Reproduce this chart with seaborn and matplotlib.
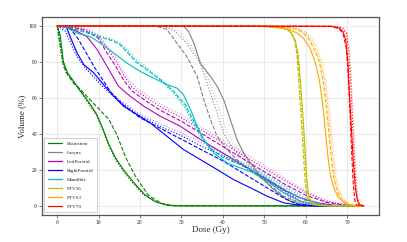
import matplotlib
matplotlib.use("Agg")
import matplotlib.pyplot as plt
from matplotlib.lines import Line2D
import seaborn as sns
import pandas as pd

# ---------------- data (dose in Gy, volume in %) ----------------
structures = ["Brainstem", "Larynx", "LeftParotid", "RightParotid",
              "Mandible", "PTV56", "PTV63", "PTV70"]
colors = ["green", "gray", "m", "b", "c", "y", "orange", "red"]
variants = ["solid", "dashed", "dotted", "faint"]

brainstem = [
    ([0, 0.7, 1.5, 2.5, 4, 5.5, 7.5, 9.5, 11, 12.5, 14, 16, 18.5, 21, 23.5, 26.5, 30, 74],
     [100, 95, 80, 74, 69, 64, 58, 51, 43, 34, 27, 20, 13, 6.5, 2.5, 0.4, 0, 0]),
    ([0, 0.5, 1.5, 2.5, 4, 5.5, 7.5, 10, 12.5, 14.5, 16.5, 19, 22, 25, 28, 74],
     [100, 92, 78, 73, 68, 65, 60, 54, 48, 39, 27, 16, 6, 1.5, 0, 0]),
    ([0, 0.5, 1.2, 2.3, 4, 5.5, 7.5, 9.5, 11, 12.5, 14, 16, 18.5, 21, 24, 27, 74],
     [100, 93, 80, 73, 69, 64, 57, 50, 42, 33, 26, 19, 12, 6, 2, 0.2, 0]),
    ([0, 0.6, 1.3, 2.4, 4, 5.5, 7.5, 9.5, 11, 12.5, 14, 16, 18.5, 21, 24, 27, 74],
     [100, 94, 81, 74, 69, 65, 58, 51, 43, 34, 27, 20, 12.5, 6.5, 2.2, 0.3, 0]),
]
larynx = [
    ([0, 30.5, 31.7, 33, 34.6, 37, 38.6, 40.2, 41.8, 43.4, 45, 46.7, 49, 52.3, 55.5, 58.7, 62, 74],
     [100, 100, 97, 90.5, 79, 72, 66.5, 59, 48, 37, 29.4, 23.9, 16.5, 9, 3.5, 0.7, 0, 0]),
    ([0, 22.5, 24.5, 26.5, 28.9, 31.3, 33.8, 35.4, 37, 38.6, 41, 44.2, 47.5, 50.7, 54.7, 58.7, 62, 74],
     [100, 100, 99.5, 98, 90.5, 83, 72, 59, 48, 38.7, 31.3, 23.9, 18.3, 12.8, 5.4, 1.3, 0, 0]),
    ([0, 25.5, 28.5, 31.3, 34.6, 37, 38.6, 40.2, 42.6, 45.8, 49, 52.5, 56, 59, 62, 74],
     [100, 100, 97, 90.5, 79, 62.8, 51.7, 40.5, 31.3, 23.9, 17.5, 11, 5, 1.2, 0, 0]),
    ([0, 26.5, 29.5, 32, 35.2, 37.6, 39.2, 40.8, 43.2, 46.2, 49.5, 53, 56.5, 59.5, 62.5, 74],
     [100, 100, 97, 90.5, 79, 64, 53, 42, 32.5, 24.5, 18, 11.5, 5.3, 1.3, 0, 0]),
]
left_parotid = [
    ([0, 2, 4.8, 7.2, 9.6, 12, 14.8, 17.6, 20.9, 24.9, 29.7, 34.6, 38.6, 42.6, 46.7, 50.7, 54.7, 58.7, 62.8, 66.8, 70, 74],
     [100, 99.5, 97, 94, 87, 77.6, 66.5, 61, 55.4, 49.8, 44.3, 36.9, 31.3, 25.7, 20.2, 14.6, 9, 4.4, 1.7, 0.4, 0, 0]),
    ([0, 3, 6, 8, 10, 12, 14, 16, 18, 21, 25, 30, 35, 40, 45, 50, 55, 60, 65, 70, 74],
     [100, 99.5, 98, 96, 93, 85, 78, 70, 64, 59, 53, 47, 40, 33, 26, 19, 12, 6, 2, 0.3, 0]),
    ([0, 3, 6, 8, 10, 12, 14, 16, 18, 21, 25, 30, 35, 40, 45, 50, 55, 60, 65, 70, 74],
     [100, 99.5, 98.5, 97, 94, 88, 81, 73, 66, 61, 55, 49, 42, 35, 28, 21, 14, 7.5, 2.5, 0.4, 0]),
    ([0, 3, 6, 8, 10, 12, 14, 16, 18, 21, 25, 30, 35, 40, 45, 50, 55, 60, 65, 70, 74],
     [100, 99.7, 99, 97.5, 95, 89, 83, 75, 68, 62.5, 56.5, 50.5, 43.5, 36.5, 29.5, 22.5, 15, 8.5, 3, 0.5, 0]),
]
right_parotid = [
    ([0, 1.5, 2.3, 3.5, 4.8, 6.4, 8.8, 11.2, 13.6, 16, 19.3, 22.5, 26.5, 30.5, 34.6, 38.6, 42.6, 46.7, 50.7, 54.7, 58.7, 62, 74],
     [100, 100, 99, 92, 85, 78.5, 74, 67.4, 61, 55.4, 50.7, 46, 38.7, 31.3, 25.7, 20.2, 14.6, 10, 5.4, 1.7, 0.3, 0, 0]),
    ([0, 3, 5, 7, 9, 11, 13, 16, 20, 25, 30, 35, 40, 45, 50, 55, 58, 62, 74],
     [100, 99, 93, 85, 77, 70, 63, 56, 49, 43, 37, 31, 25, 18, 11, 4, 1, 0, 0]),
    ([0, 2, 3.5, 5, 7, 9, 12, 15, 20, 25, 30, 35, 40, 45, 50, 55, 59, 63, 74],
     [100, 97, 89, 82, 76, 71, 64, 58, 50, 44, 39, 33, 28, 22, 15, 8, 2, 0, 0]),
    ([0, 2.2, 3.7, 5.2, 7, 9, 12, 15, 20, 25, 30, 35, 40, 45, 50, 55, 59, 63, 74],
     [100, 98, 90, 83, 77, 72, 65, 59, 51, 45.5, 40.5, 35, 29.5, 23.5, 16.5, 9, 2.5, 0, 0]),
]
mandible = [
    ([0, 2.3, 4.8, 8, 10.4, 13.6, 16.8, 20, 23.3, 26.5, 28.9, 30.5, 32.2, 33.8, 35.4, 37.8, 41, 44.2, 47.5, 50.7, 54.7, 58.7, 62.8, 66, 74],
     [100, 99, 96, 94, 90.5, 85, 79.4, 74.8, 71, 67.4, 65.5, 61.8, 53.5, 44.3, 36.9, 29.4, 23.9, 21.1, 18.3, 13.7, 7.2, 2.6, 0.7, 0, 0]),
    ([0, 3, 6, 10, 13, 15, 17, 19, 22, 25, 28, 31, 33, 35, 37, 40, 45, 50, 55, 60, 64, 67, 74],
     [100, 99, 97, 94, 92, 90, 85, 80, 75, 70, 64, 56, 47, 38, 32, 27, 22, 16, 9, 3, 0.5, 0, 0]),
    ([0, 3, 6, 10, 13, 15, 17, 19, 22, 25, 28, 31, 33, 35, 37, 40, 45, 50, 55, 60, 64, 67, 74],
     [100, 99, 97, 94.5, 92.5, 90.5, 86, 81, 75.5, 70, 63, 54, 45, 37, 31.5, 27.5, 23, 17.5, 10.5, 4, 0.8, 0, 0]),
    ([0, 3, 6, 10, 13, 15, 17, 19, 22, 25, 28, 31, 33, 35, 37, 40, 45, 50, 55, 60, 64, 67, 74],
     [100, 99.3, 97.5, 95, 93, 91, 87, 82, 76.5, 71, 64, 55, 46, 38, 32.5, 28.5, 24, 18.5, 11.5, 4.5, 1, 0, 0]),
]
ptv56 = [
    ([0, 50, 54, 55.5, 56.5, 57.5, 58.2, 58.7, 59.1, 59.5, 59.9, 60.3, 60.7, 61.2, 62, 64, 66, 74],
     [100, 99.8, 99, 98, 96, 92, 84, 70, 58, 45, 30, 15, 6, 2.5, 1, 0.2, 0, 0]),
    ([0, 50, 54, 55.5, 56.5, 57.3, 57.9, 58.3, 58.7, 59.1, 59.5, 59.9, 60.3, 60.8, 61.5, 63, 66, 74],
     [100, 99.8, 99.2, 98.3, 96.5, 92, 84, 70, 56, 42, 27, 13, 5, 2, 0.8, 0.2, 0, 0]),
    ([0, 50, 54, 55.5, 56.5, 57.4, 58, 58.5, 58.9, 59.3, 59.7, 60.1, 60.5, 61, 61.8, 63.5, 66, 74],
     [100, 99.8, 99.1, 98.2, 96.3, 92, 84, 70, 57, 43, 28, 14, 5.5, 2.2, 0.9, 0.2, 0, 0]),
    ([0, 50, 54, 55.5, 56.5, 57.5, 58.1, 58.6, 59, 59.4, 59.8, 60.2, 60.6, 61.1, 61.9, 63.5, 66, 74],
     [100, 99.8, 99.1, 98.2, 96.3, 92, 84, 70, 57, 43, 28, 14, 5.5, 2.2, 0.9, 0.2, 0, 0]),
]
ptv63 = [
    ([0, 48, 52, 54, 56, 58, 59.5, 61, 62.3, 63.3, 64, 64.5, 65, 65.5, 66, 66.8, 67.8, 69, 70.5, 73, 74],
     [100, 99.8, 99.3, 98.8, 98, 96, 93, 88, 80, 70, 59, 48, 36, 25, 17, 10, 5, 2.5, 0.8, 0, 0]),
    ([0, 50, 54, 56, 58, 59.5, 61, 62.3, 63.3, 64.2, 64.8, 65.3, 65.8, 66.3, 66.8, 67.5, 68.5, 69.5, 70.5, 72, 74],
     [100, 99.8, 99.5, 99, 98, 96, 92, 86, 80, 70, 59, 48, 36, 25, 16, 9, 4, 1.5, 0.3, 0, 0]),
    ([0, 50, 54, 56, 58.3, 59.8, 61.4, 62.7, 63.7, 64.6, 65.2, 65.7, 66.2, 66.7, 67.2, 67.9, 68.9, 69.9, 70.9, 72.5, 74],
     [100, 99.8, 99.6, 99.2, 98.2, 96.5, 92.5, 86.5, 80, 70, 59, 48, 36, 25, 16, 9, 4, 1.5, 0.3, 0, 0]),
    ([0, 51, 55, 57, 58.8, 60.2, 61.8, 63, 64, 64.9, 65.5, 66, 66.5, 67, 67.5, 68.2, 69.2, 70.2, 71.2, 72.8, 74],
     [100, 99.8, 99.6, 99.2, 98.2, 96.5, 92.5, 86.5, 80, 70, 59, 48, 36, 25, 16, 9, 4, 1.5, 0.3, 0, 0]),
]
ptv70 = [
    ([0, 66, 68, 69, 69.7, 70.2, 70.6, 71, 71.5, 72, 72.5, 73, 74],
     [100, 99.8, 99, 97, 92, 80, 62, 45, 25, 10, 3, 0.5, 0]),
    ([0, 66, 68, 69, 69.8, 70.3, 70.7, 71.1, 71.5, 71.9, 72.3, 74],
     [100, 99.8, 98.5, 96, 88, 72, 52, 30, 12, 3, 0.5, 0]),
    ([0, 67, 68.8, 69.8, 70.4, 70.9, 71.3, 71.7, 72.1, 72.5, 73, 74],
     [100, 99.8, 99, 96, 86, 68, 48, 28, 12, 4, 1, 0]),
    ([0, 67.3, 69, 70, 70.6, 71.1, 71.5, 71.9, 72.3, 72.7, 73.2, 74],
     [100, 99.8, 99, 96, 86, 68, 48, 28, 12, 4, 1, 0]),
]

all_curves = [brainstem, larynx, left_parotid, right_parotid,
              mandible, ptv56, ptv63, ptv70]

# ---------------- figure ----------------
sns.set_style("whitegrid")
plt.rcParams["font.family"] = ["Liberation Serif", "DejaVu Serif"]

fig = plt.figure(figsize=(4.07, 2.42), dpi=100)
ax = fig.add_axes([0.103, 0.112, 0.828, 0.818])

line_styles = {"solid": dict(ls="-", alpha=1.0),
               "dashed": dict(ls="--", alpha=1.0),
               "dotted": dict(ls=":", alpha=1.0),
               "faint": dict(ls=":", alpha=0.45)}

for name, col, curves in zip(structures, colors, all_curves):
    for var, (dose, vol) in zip(variants, curves):
        df = pd.DataFrame({"Dose": dose, "Volume": vol})
        st = line_styles[var]
        sns.lineplot(data=df, x="Dose", y="Volume", ax=ax, color=col,
                     linestyle=st["ls"], alpha=st["alpha"], lw=0.8,
                     estimator=None, sort=False, legend=False)

ax.set_xlim(-3.7, 77.7)
ax.set_ylim(-5, 105)
ax.set_xticks([0, 10, 20, 30, 40, 50, 60, 70])
ax.set_yticks([0, 20, 40, 60, 80, 100])
ax.grid(True, color="#e6e6e6", lw=0.6)
ax.tick_params(axis="both", labelsize=4, length=2, width=0.5,
               color="#444444", pad=1.5, bottom=True, left=True)
for sp in ax.spines.values():
    sp.set_color("#555555")
    sp.set_linewidth(0.9)
ax.set_xlabel("Dose (Gy)", fontsize=6.5, labelpad=1)
ax.set_ylabel("Volume (%)", fontsize=6.5, labelpad=2)

handles = [Line2D([0], [0], color=c, lw=0.9) for c in colors]
leg = ax.legend(handles, structures, loc="lower left", fontsize=3.7,
                frameon=True, handlelength=2.8, borderpad=0.7,
                labelspacing=0.85, fancybox=False,
                bbox_to_anchor=(0.0, 0.0))
leg.get_frame().set_edgecolor("#aaaaaa")
leg.get_frame().set_linewidth(0.5)

fig.savefig("out.png", dpi=100)
